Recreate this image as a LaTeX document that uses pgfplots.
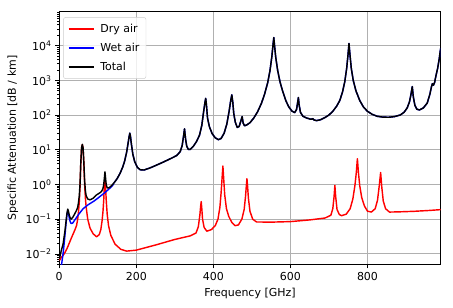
\documentclass[border=0pt]{standalone}
\usepackage{fontspec}
\setmainfont{DejaVu Sans}
\usepackage{pgfplots}
\pgfplotsset{compat=1.18}
\usepackage{pgfplotstable}
\definecolor{gridgray}{HTML}{B0B0B0}
\definecolor{legframe}{HTML}{CCCCCC}

\pgfplotstableread{
f v
1 0.0065
5 0.0078
10 0.009
15 0.011
20 0.014
25 0.019
30 0.026
35 0.035
40 0.047
45 0.065
48 0.1
50 0.16
52 0.3
54 0.8
56 4
58 11
60 14
62 11
64 4
66 1.0
68 0.4
70 0.22
74 0.1
80 0.055
88 0.038
97 0.031
104 0.036
108 0.05
111 0.085
113.5 0.16
115.5 0.35
117.5 1.0
118.75 1.7
120 1.0
122 0.35
124.5 0.14
128 0.065
134 0.034
145 0.019
160 0.0135
175 0.012
200 0.0128
250 0.018
300 0.026
340 0.033
355 0.04
361 0.06
365 0.13
367.3 0.25
368.5 0.32
369.8 0.22
372 0.1
376 0.058
383 0.045
395 0.05
405 0.065
412 0.1
417 0.22
420 0.55
422.8 1.6
424.8 3.4
426.8 1.5
429.5 0.5
434 0.2
440 0.12
448 0.08
456 0.065
465 0.068
474 0.1
480 0.19
483.5 0.45
485.7 0.95
487.2 1.46
488.8 0.9
491 0.4
495 0.17
502 0.1
512 0.083
550 0.082
600 0.085
650 0.095
690 0.108
705 0.13
710 0.2
713.3 0.45
715.4 0.94
717.4 0.45
721 0.19
727 0.135
733 0.126
745 0.14
755 0.2
762 0.38
767.5 0.95
771 2.2
773.8 5.5
776.5 2.2
780 0.9
785 0.42
792 0.24
800 0.17
810 0.16
820 0.2
826 0.35
830.5 0.9
834.1 2.2
837.3 0.8
841 0.33
847 0.2
857 0.16
880 0.162
920 0.168
960 0.178
990 0.188
}\drytable

\pgfplotstableread{
f v
1 0.0015
3 0.0028
5 0.004
8 0.007
10 0.01
12 0.016
15 0.035
18 0.08
20 0.13
22.2 0.18
24 0.15
26 0.11
28.5 0.085
31 0.075
35 0.077
40 0.093
50 0.135
62 0.2
75 0.26
90 0.33
100 0.4
110 0.49
120 0.6
132 0.79
138 0.92
142 1.05
}\wetlowtable

\pgfplotstableread{
f v
1 0.0075
5 0.012
10 0.019
15 0.046
18 0.093
20 0.144
22.2 0.195
24 0.17
26 0.13
28.5 0.108
31 0.1
35 0.112
40 0.14
45 0.18
48 0.22
50 0.3
52 0.46
54 1.0
56 4.2
58 11.2
60 14.3
62 11.2
64 4.2
66 1.25
68 0.65
70 0.47
74 0.38
80 0.36
88 0.4
97 0.5
104 0.56
108 0.6
111 0.66
113.5 0.76
115.5 0.98
117.5 1.65
118.75 2.3
120 1.65
122 0.98
124.5 0.8
128 0.79
134 0.88
142 1.1
150 1.45
158 2.1
165 3.2
170 4.8
175 8.5
179 16
181.5 24
183.3 30
185 24
187.5 14
191 7.5
196 4.5
203 3.1
210 2.65
220 2.6
236 3.0
250 3.5
270 4.4
290 5.6
305 6.8
314 8.8
319 13
322.5 24
325.2 40
328 20
331 12.5
335 10.2
340 10.2
348 12.5
356 17
364 26
370 50
375 130
378.5 240
380.2 300
382 200
385 80
390 45
397 29
405 22
413 19.5
420 21
428 30
435 55
441 130
445.5 280
448 380
450.5 230
453 110
457 62
462 44
467 47
471 65
474.7 90
477.5 58
481 49
487 52
495 60
505 82
515 125
525 220
533 400
541 850
547 1900
552 5000
555 11000
556.9 17000
559 9500
562 4500
567 1900
573 900
580 480
588 260
596 170
604 130
611 117
616 145
619 240
620.7 320
622.5 200
626 120
632 93
642 82
652 76
656 76
658 79
661 72
668 69
678 73
690 85
700 100
710 128
720 180
728 260
735 450
741 900
746 2200
749.5 5500
752 11500
754.5 5500
758 2200
763 1000
770 500
780 260
790 167
800 128
812 105
825 92
840 87
855 86
870 90
885 100
895 120
903 160
909 240
913 400
916.2 660
919 330
923 190
928 147
935 140
945 160
955 220
962 400
966 650
968.5 800
971 720
974 850
978 1400
982 2200
986 4000
988.5 6500
990 8300
}\totaltable

\begin{document}
\begin{tikzpicture}
\begin{axis}[
  name=ax,
  scale only axis,
  width=347.3pt, height=230.3pt,
  ymode=log,
  xmin=0, xmax=990, ymin=4.9e-3, ymax=9.5e4,
  xtick={0,200,400,600,800},
  xticklabels={0,200,400,600,800},
  ytick={1e-2,1e-1,1,10,100,1000,10000},
  yticklabels={10\textsuperscript{−2},10\textsuperscript{−1},10\textsuperscript{0},10\textsuperscript{1},10\textsuperscript{2},10\textsuperscript{3},10\textsuperscript{4}},
  minor ytick={5e-3,6e-3,7e-3,8e-3,9e-3,
    2e-2,3e-2,4e-2,5e-2,6e-2,7e-2,8e-2,9e-2,
    0.2,0.3,0.4,0.5,0.6,0.7,0.8,0.9,
    2,3,4,5,6,7,8,9,
    20,30,40,50,60,70,80,90,
    200,300,400,500,600,700,800,900,
    2000,3000,4000,5000,6000,7000,8000,9000,
    2e4,3e4,4e4,5e4,6e4,7e4,8e4,9e4},
  xtick pos=bottom, ytick pos=left,
  tick align=outside,
  major tick length=3.5pt, minor tick length=2pt,
  every tick/.style={black, line width=0.6pt},
  axis line style={line width=0.6pt},
  grid=major,
  major grid style={line width=0.8pt, color=gridgray},
  xlabel={Frequency [GHz]},
  ylabel={Specific Attenuation [dB / km]},
  legend style={at={(0.0105,0.978)}, anchor=north west,
    draw=legframe, rounded corners=2pt, fill=white, fill opacity=0.8,
    text opacity=1, draw opacity=1, row sep=4.2pt, column sep=3pt, inner xsep=4pt, inner ysep=4pt},
  legend cell align=left,
  legend image code/.code={\draw[#1, line width=1.6pt, draw opacity=1] (0pt,0pt) -- (23pt,0pt);},
  every axis plot/.append style={line width=1.3pt, line join=round},
]
\addplot[red] table[x=f, y=v] {\drytable};
\addlegendentry{Dry air}
\addplot[blue] table[x=f, y=v] {\wetlowtable};
\addlegendentry{Wet air}
\addplot[blue, forget plot, restrict x to domain=142:1000] table[x=f, y=v] {\totaltable};
\addplot[black] table[x=f, y=v] {\totaltable};
\addlegendentry{Total}
\end{axis}
\path ([xshift=-53.9pt,yshift=-39.1pt]ax.south west) rectangle ([xshift=11.2pt,yshift=10.6pt]ax.north east);
\end{tikzpicture}
\end{document}
